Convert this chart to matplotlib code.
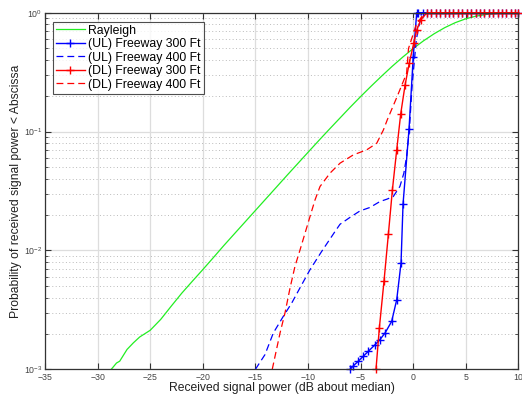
import matplotlib
matplotlib.use("Agg")
import matplotlib.pyplot as plt
from matplotlib.ticker import LogLocator, NullFormatter, FixedLocator

plt.rcParams['font.family'] = ['Liberation Sans', 'DejaVu Sans']

# ---- data ----
ray_x = [-28.7, -28.2, -27.9, -27.2, -26.6, -26.0, -25.0, -24.0, -23.0, -22.0, -21.0,
         -20.0, -19.0, -18.0, -17.0, -16.0, -15.0, -14.0, -13.0, -12.0, -11.0, -10.0,
         -9.0, -8.0, -7.0, -6.0, -5.0, -4.0, -3.0, -2.0, -1.0, 0.0, 1.0, 2.0, 3.0,
         4.0, 5.0, 6.0, 7.0, 8.0, 9.0, 10.0]
ray_y = [0.00100, 0.00113, 0.00117, 0.00147, 0.00167, 0.00187, 0.00213, 0.00263,
         0.00340, 0.00437, 0.00550, 0.00690, 0.00870, 0.0110, 0.0138, 0.0173,
         0.0217, 0.0272, 0.0341, 0.0428, 0.0535, 0.0669, 0.0836, 0.104, 0.129,
         0.160, 0.197, 0.241, 0.293, 0.354, 0.423, 0.500, 0.582, 0.666, 0.749,
         0.825, 0.889, 0.937, 0.968, 0.987, 0.996, 0.999]

top_x = [1.3, 1.72, 2.14, 2.56, 2.98, 3.4, 3.82, 4.24, 4.66, 5.08, 5.5, 5.92, 6.34,
         6.76, 7.18, 7.6, 8.02, 8.44, 8.86, 9.28, 9.7, 10.0]

ul300_x = [-6.0, -5.69, -5.22, -4.74, -4.26, -3.63, -3.16, -2.68, -2.05, -1.57,
           -1.16, -0.97, -0.40, 0.0, 0.33, 0.49, 0.9] + top_x
ul300_y = [0.00100, 0.00107, 0.00117, 0.00129, 0.00142, 0.00161, 0.00178, 0.00202,
           0.00253, 0.00385, 0.00783, 0.0245, 0.105, 0.427, 1.0, 1.0, 1.0] + [1.0] * len(top_x)

ul400_x = [-15.0, -14.09, -13.3, -12.35, -11.55, -10.6, -9.81, -8.7, -7.43, -6.96,
           -6.0, -5.06, -4.11, -3.16, -2.5, -1.90, -1.27, -0.89, -0.63, -0.37,
           -0.1, 0.3, 0.8, 10.0]
ul400_y = [0.00100, 0.00133, 0.00202, 0.00279, 0.00361, 0.00515, 0.00689, 0.00982,
           0.01445, 0.0166, 0.0190, 0.0215, 0.0230, 0.0258, 0.0270, 0.0284, 0.0345,
           0.0447, 0.0617, 0.103, 0.25, 0.6, 1.0, 1.0]

dl300_x = [-3.54, -3.22, -2.78, -2.36, -1.98, -1.57, -1.19, -0.78, -0.37, 0.06,
           0.33, 0.71] + top_x
dl300_y = [0.00100, 0.00223, 0.00550, 0.0138, 0.0324, 0.0702, 0.141, 0.245, 0.380,
           0.560, 0.716, 0.869] + [1.0] * len(top_x)

dl400_x = [-13.4, -12.66, -12.19, -11.71, -11.24, -10.76, -10.19, -9.81, -9.33,
           -8.86, -7.91, -6.96, -5.69, -4.42, -3.47, -2.84, -2.46, -1.5, -0.63,
           -0.45, 0.3, 1.1, 10.0]
dl400_y = [0.00100, 0.00202, 0.00298, 0.00483, 0.00735, 0.0101, 0.0149, 0.0193,
           0.0267, 0.0345, 0.0447, 0.0542, 0.0637, 0.0702, 0.0798, 0.103, 0.126,
           0.20, 0.309, 0.50, 0.80, 1.0, 1.0]

labels = ['Rayleigh', '(UL) Freeway 300 Ft', '(UL) Freeway 400 Ft',
          '(DL) Freeway 300 Ft', '(DL) Freeway 400 Ft']
xticks = [-35, -30, -25, -20, -15, -10, -5, 0, 5, 10]

# ---- plot ----
fig = plt.figure(figsize=(5.22, 3.98), dpi=100)
ax = fig.add_axes([0.0862, 0.0721, 0.907, 0.896])

ax.semilogy(ray_x, ray_y, color='#22ee22', lw=0.9, label=labels[0])
ax.semilogy(ul300_x, ul300_y, color='#0000ff', lw=1.0, marker='+', ms=6, mew=1.0,
            label=labels[1], clip_on=False)
ax.semilogy(ul400_x, ul400_y, color='#0000ff', lw=0.9, ls=(0, (5.5, 3.2)), label=labels[2])
ax.semilogy(dl300_x, dl300_y, color='#ff0000', lw=1.0, marker='+', ms=6, mew=1.0,
            label=labels[3], clip_on=False)
ax.semilogy(dl400_x, dl400_y, color='#ff0000', lw=0.9, ls=(0, (5.5, 3.2)), label=labels[4])

ax.set_xlim(-35, 10)
ax.set_ylim(1e-3, 1)
ax.xaxis.set_major_locator(FixedLocator(xticks))
ax.yaxis.set_major_locator(LogLocator(base=10, numticks=10))
ax.yaxis.set_minor_locator(LogLocator(base=10, subs=range(2, 10), numticks=100))
ax.yaxis.set_minor_formatter(NullFormatter())

ax.grid(True, which='major', axis='both', color='#dddddd', lw=0.9, ls='-')
ax.grid(True, which='minor', axis='y', color='#bbbbbb', lw=0.7, ls=(0, (1, 2.5)))
ax.set_axisbelow(True)

ax.tick_params(which='both', direction='in', top=True, right=True,
               labelsize=6.3, colors='#333333', labelcolor='#444444')
ax.tick_params(axis='x', pad=3)
ax.tick_params(axis='y', pad=2)
ax.tick_params(which='major', length=4, width=0.8)
ax.tick_params(which='minor', length=2.5, width=0.6)
for s in ax.spines.values():
    s.set_color('#333333')
    s.set_linewidth(0.9)

ax.set_xlabel('Received signal power (dB about median)', fontsize=8.7,
              color='#222222', labelpad=0)
ax.set_ylabel('Probability of received signal power < Abscissa', fontsize=8.7,
              color='#222222', labelpad=1)

leg = ax.legend(loc='upper left', bbox_to_anchor=(0.0177, 0.975), fontsize=8.8,
                frameon=True, fancybox=False, edgecolor='#222222',
                handlelength=2.3, handletextpad=0.3, labelspacing=0.12,
                borderpad=0.25, borderaxespad=0.0)
leg.get_frame().set_linewidth(0.8)

fig.savefig('out.png', dpi=100)
